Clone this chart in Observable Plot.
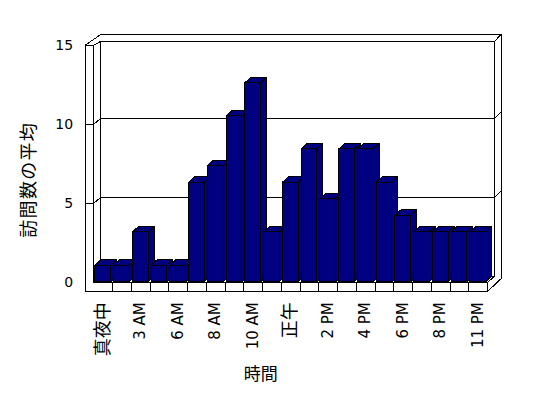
<!DOCTYPE html>
<html><head><meta charset="utf-8">
<script src="https://cdn.jsdelivr.net/npm/d3@7"></script>
<script src="https://cdn.jsdelivr.net/npm/@observablehq/plot@0.6"></script>
<style>html,body{margin:0;padding:0;background:#fff;}</style>
</head><body><div id="chart"></div>
<script>
// ---- data ----
const hours = ["真夜中","1 AM","3 AM","4 AM","6 AM","7 AM","8 AM","9 AM","10 AM","11 AM","正午",
               "1 PM","2 PM","3 PM","4 PM","5 PM","6 PM","7 PM","8 PM","9 PM","11 PM"];
const visits = [1.05,1.05,3.15,1.05,1.05,6.3,7.35,10.5,12.6,3.15,6.3,
                8.4,5.25,8.4,8.4,6.3,4.2,3.15,3.15,3.15,3.15];
const yTicks = [0,5,10,15];
const yTitle = "訪問数の平均";
const xTitle = "時間";

// ---- 3D geometry (data units) ----
const N = hours.length, YMAX = 15;
const FT = 0.59, LW = 0.46, BX = 0.38, BY = 0.37, OX = 0.34, OY = 0.42, TOPI = 15.25, TOPO = 15.68;
const B1 = 0.09, B2 = 0.93, DX = 0.32, DY = 0.35;

const bars = hours.map((h, i) => ({h, i, v: visits[i]}));
const sides = bars.flatMap(d => [{i: d.i, x: d.i + B2, y1: 0, y2: d.v}, {i: d.i, x: d.i + B2 + DX, y1: DY, y2: d.v + DY}]);
const tops = bars.flatMap(d => [{i: d.i, y: d.v, x1: d.i + B1, x2: d.i + B2}, {i: d.i, y: d.v + DY, x1: d.i + B1 + DX, x2: d.i + B2 + DX}]);

const polylines = [
  // back wall
  [[BX, BY], [N + BX, BY]],
  [[BX, BY], [BX, TOPI], [N + BX, TOPI], [N + BX, BY]],
  [[N + BX, TOPI], [N + BX + OX, TOPO]],
  [[-LW, YMAX], [BX, TOPO], [N + BX + OX, TOPO], [N + BX + OX, 0.22], [N, -FT]],
  [[0, YMAX], [BX, TOPI]],
  // left wall
  [[-LW, -FT], [-LW, YMAX], [0, YMAX], [0, 0]],
  // floor
  [[0, 0], [N, 0], [N, -FT], [-LW, -FT]],
  [[N, 0], [N + BX, BY]]
];
yTicks.filter(v => v > 0 && v < YMAX).forEach(v => {
  polylines.push([[-LW, v], [0, v], [BX, v + BY], [N + BX, v + BY], [N + BX + OX, v + BY + OY]]);
});
const frame = polylines.flatMap((p, id) => p.map(([x, y]) => ({id, x, y})));
const dividers = d3.range(1, N);

const NAVY = "#000080";
const latin = "'DejaVu Sans', 'Noto Sans CJK JP', sans-serif";
const cjk = "'Noto Sans CJK JP', 'DejaVu Sans', sans-serif";

const chart = Plot.plot({
  width: 548, height: 398,
  marginLeft: 93.3, marginRight: 60.95, marginTop: 44.7, marginBottom: 116.3,
  x: {domain: [0, N], axis: null},
  y: {domain: [0, YMAX], axis: null},
  style: {background: "white", fontFamily: latin, color: "black"},
  marks: [
    Plot.line(frame, {x: "x", y: "y", z: "id", stroke: "black", strokeWidth: 1, shapeRendering: "crispEdges"}),
    Plot.ruleX(dividers, {x: d => d, y1: 0, y2: -FT, stroke: "black", shapeRendering: "crispEdges"}),
    Plot.areaY(sides, {x: "x", y1: "y1", y2: "y2", z: "i", fill: NAVY, stroke: "black", strokeWidth: 1, shapeRendering: "crispEdges"}),
    Plot.areaX(tops, {y: "y", x1: "x1", x2: "x2", z: "i", fill: NAVY, stroke: "black", strokeWidth: 1, shapeRendering: "crispEdges"}),
    Plot.rectY(bars, {x1: d => d.i + B1, x2: d => d.i + B2, y1: 0, y2: "v", fill: NAVY, stroke: "black", strokeWidth: 1, shapeRendering: "crispEdges"}),
    Plot.text(yTicks, {x: -LW, y: d => d, dx: -12, text: d => String(d), textAnchor: "end", fontSize: 14, fontFamily: latin, fill: "black"}),
    Plot.text(bars.filter(d => d.i % 2 === 0), {x: d => d.i + 0.5, y: 0, dy: 20, text: "h", rotate: -90, textAnchor: "end",
      fontSize: d => /[^\x00-\x7f]/.test(d.h) ? 18 : 15, fontFamily: latin, fill: "black"}),
    Plot.text([xTitle], {frameAnchor: "bottom", dx: -30, dy: 98, text: d => d, fontSize: 17, fontFamily: cjk, fill: "black"}),
    Plot.text([yTitle], {frameAnchor: "left", dx: -65, dy: 74, text: d => d, rotate: -90, fontSize: 18, fontFamily: cjk, fill: "black"})
  ]
});
d3.select(chart).selectAll("text").filter(function() { return this.textContent === yTitle; }).attr("letter-spacing", "1.3px");
document.getElementById("chart").appendChild(chart);
</script>
</body></html>
